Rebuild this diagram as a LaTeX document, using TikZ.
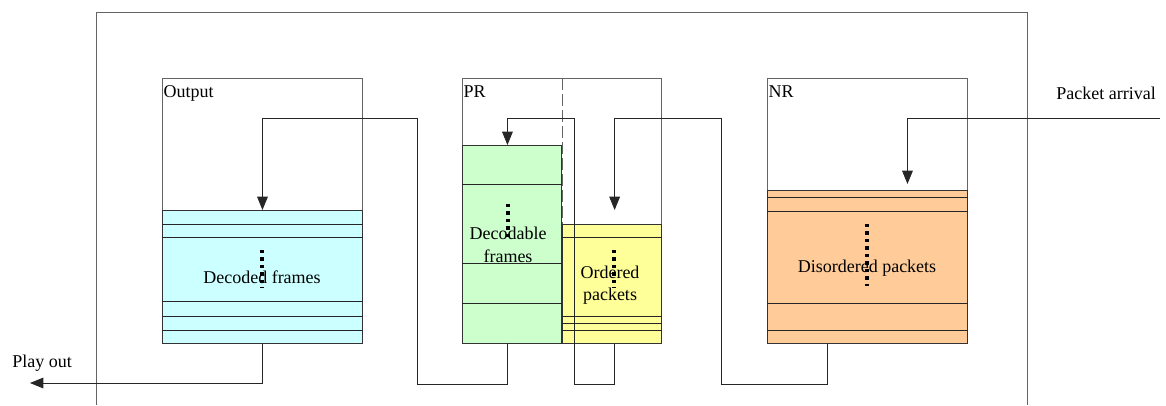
\documentclass[tikz,border=0pt]{standalone}
\usepackage{fontspec}
\setmainfont{Liberation Serif}
\usepackage{tikz}
\usetikzlibrary{arrows.meta,positioning,calc}
\definecolor{decblue}{RGB}{204,255,255}
\definecolor{decgreen}{RGB}{204,255,204}
\definecolor{ordyellow}{RGB}{255,255,153}
\definecolor{disorange}{RGB}{255,204,153}
\definecolor{framegray}{RGB}{100,100,100}

\begin{document}
\begin{tikzpicture}[x=0.75pt,y=-0.75pt,
    txt/.style={font=\fontsize{13.5}{17}\selectfont, inner sep=0pt},
    region/.style={draw=framegray, line width=0.7pt, inner sep=0pt, anchor=north west},
    buffer/.style={draw=black!80, line width=0.7pt, inner sep=0pt, anchor=north west},
    sz/.style 2 args={minimum width=#1*0.75pt, minimum height=#2*0.75pt},
    slot/.style={black!85, line width=0.6pt},
    flow/.style={black!85, line width=0.65pt},
    flowarrow/.style={flow, -{Triangle[length=10pt,width=8pt]}},
    queuedots/.style={line width=2.7pt, dash pattern=on 2.6pt off 3pt}]
    \useasboundingbox (0,0) rectangle (1166,405);
    \draw[framegray, line width=0.7pt] (96,405) -- (96,12) -- (1027,12) -- (1027,405);

    \node[region, sz={200}{265}] (outreg) at (162,78) {};
    \node[region, sz={199}{265}] (prreg) at (462,78) {};
    \node[region, sz={200}{265}] (nrreg) at (767,78) {};
    \draw[framegray, line width=0.7pt, dash pattern=on 9pt off 3pt] (prreg.north) -- (prreg.north |- 562,224);

    \node[buffer, fill=decblue, sz={200}{133}] (outq) at (162,210) {};
    \node[buffer, fill=decgreen, sz={99}{198}] (grnq) at (462,145) {};
    \node[buffer, fill=ordyellow, sz={99}{119}] (yelq) at (562,224) {};
    \node[buffer, fill=disorange, sz={200}{153}] (nrq) at (767,190) {};

    \foreach \y in {224,237,301,316,330}
        \draw[slot] (outq.west |- 0,\y) -- (outq.east |- 0,\y);
    \foreach \y in {184,263,303}
        \draw[slot] (grnq.west |- 0,\y) -- (grnq.east |- 0,\y);
    \foreach \y in {237,316,323,330}
        \draw[slot] (yelq.west |- 0,\y) -- (yelq.east |- 0,\y);
    \foreach \y in {197,211,303,330}
        \draw[slot] (nrq.west |- 0,\y) -- (nrq.east |- 0,\y);

    \draw[queuedots] (262,250) -- (262,288);
    \draw[queuedots] (508,204) -- (508,241);
    \draw[queuedots] (614,250) -- (614,288);
    \draw[queuedots] (867,224) -- (867,286);

    \node[txt] (dectxt) at (262,277) {Decoded frames};
    \node[txt, align=center] (dbltxt) at (508,245) {Decodable\\frames};
    \node[txt, align=center] (ordtxt) at (610,285) {Ordered\\packets};
    \node[txt] (distxt) at (867,268) {Disordered packets};

    \node[txt, anchor=north west] (outlbl) at ([shift={(1pt,-5.5pt)}]outreg.north west) {Output};
    \node[txt, anchor=north west] (prlbl) at ([shift={(1pt,-5.5pt)}]prreg.north west) {PR};
    \node[txt, anchor=north west] (nrlbl) at ([shift={(1pt,-5.5pt)}]nrreg.north west) {NR};
    \node[txt, anchor=east] (arrlbl) at (1156,93) {Packet arrival};
    \node[txt, anchor=west] (playlbl) at (12,363) {Play out};

    \coordinate (arrive) at (1160,118);
    \coordinate (playout) at (30,383);
    \draw[flowarrow] (arrive) -| ([xshift=30pt,yshift=4.5pt]nrq.north);
    \draw[flowarrow] ([xshift=-30pt]nrq.south) -- ++(0,40) -| (721,118) -| ([xshift=2pt,yshift=10.5pt]yelq.north);
    \draw[flowarrow] ([xshift=2pt]yelq.south) -- ++(0,40) -| (574,118) -| ([xshift=-3.4pt]grnq.north);
    \draw[flowarrow] ([xshift=-3.4pt]grnq.south) -- ++(0,40) -| (417,118) -| (outq.north);
    \draw[flowarrow] (outq.south) |- (playout);
\end{tikzpicture}
\end{document}
